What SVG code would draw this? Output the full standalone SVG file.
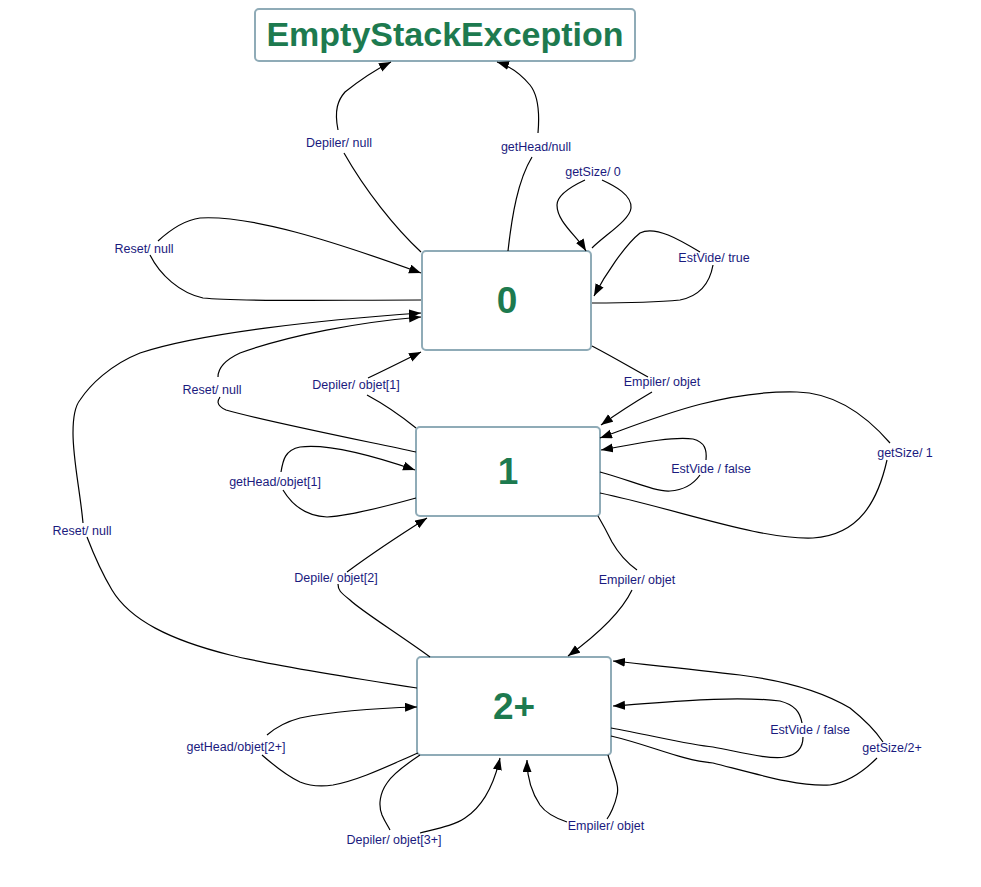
<svg xmlns="http://www.w3.org/2000/svg" width="981" height="887" viewBox="0 0 981 887">
<defs>
<marker id="ah" markerUnits="userSpaceOnUse" markerWidth="13" markerHeight="10" refX="12" refY="4.5" orient="auto">
<path d="M0,0 L12,4.5 L0,9 z" fill="#000"/>
</marker>
<style>
.node{fill:#fff;stroke:#8fabb7;stroke-width:2}
.nt{font-family:"Liberation Sans",Arial,sans-serif;font-weight:bold;fill:#1d7a4f;text-anchor:middle}
.e{fill:none;stroke:#000;stroke-width:1.2;marker-end:url(#ah)}
.lb{font-family:"Liberation Sans",Arial,sans-serif;font-size:12.5px;fill:#1a1a7e;text-anchor:middle}
</style>
</defs>
<rect width="981" height="887" fill="#fff"/>
<g id="ese">
<rect class="node" x="255" y="9" width="380" height="52" rx="4"/>
<text class="nt" x="445" y="46" font-size="34">EmptyStackException</text>
</g>
<g id="s0">
<rect class="node" x="422" y="251" width="169" height="99" rx="4"/>
<text class="nt" x="507" y="313" font-size="37">0</text>
</g>
<g id="s1">
<rect class="node" x="416" y="427" width="184" height="89" rx="4"/>
<text class="nt" x="508" y="484" font-size="37">1</text>
</g>
<g id="s2">
<rect class="node" x="417" y="657" width="194" height="98" rx="4"/>
<text class="nt" x="514" y="719" font-size="37">2+</text>
</g>
<g id="connectors">
<path class="e" d="M421,252 C395,228 365,190 344,153 M338,130 C334,110 338,100 345,92 C360,80 375,70 391,62"/>
<path class="e" d="M508,251 C512,215 518,180 532,157 M538,133 C540,110 538,95 530,85 C520,73 510,66 497,62"/>
<path class="e" d="M592,248 C605,235 630,220 631,208 C632,195 615,186 602,180 M585,180 C570,187 557,195 557,205 C557,222 577,236 586,251"/>
<path class="e" d="M592,303 C630,303 660,302 680,300 C700,296 710,282 713,265 M700,252 C680,240 655,225 640,233 C625,245 605,275 594,296"/>
<path class="e" d="M421,300 C330,300 240,302 203,298 C180,293 160,275 150,255 M158,241 C170,230 185,220 200,218 C250,215 330,240 421,273"/>
<path class="e" d="M592,346 C615,358 635,370 648,377 M652,392 C635,402 615,415 601,425"/>
<path class="e" d="M600,493 C680,510 760,540 813,538 C860,535 878,500 887,460 M890,443 C870,420 840,393 797,392 C720,390 650,420 600,438"/>
<path class="e" d="M600,472 C630,480 655,492 670,491 C685,490 695,482 700,475 M706,460 C707,450 705,442 693,439 C670,436 630,445 601,450"/>
<path class="e" d="M416,452 C350,438 260,420 226,410 C215,405 218,400 220,397 M218,377 C218,368 225,360 240,353 C290,335 360,322 421,317"/>
<path class="e" d="M416,428 C400,415 380,402 367,395 M368,378 C385,370 405,360 421,352"/>
<path class="e" d="M416,498 C380,508 345,516 327,517 C305,516 292,505 283,490 M281,472 C283,460 285,450 300,447 C330,443 380,458 415,470"/>
<path class="e" d="M417,688 C340,676 270,665 230,655 C170,640 130,620 112,590 C100,570 92,550 87,537 M83,523 C80,490 73,460 73,433 C73,415 76,405 80,400 C90,385 110,365 140,353 C200,333 320,320 421,313"/>
<path class="e" d="M430,657 C400,635 360,610 350,600 C340,592 338,590 338,584 M347,572 C370,555 400,535 427,518"/>
<path class="e" d="M598,516 C605,528 608,534 612,542 C620,556 630,565 637,570 M632,590 C620,615 590,640 568,656"/>
<path class="e" d="M611,736 C650,745 680,760 713,763 C760,775 800,787 830,785 C850,782 865,770 877,758 M883,742 C875,730 865,720 850,708 C820,690 780,680 740,675 C700,670 650,665 613,661"/>
<path class="e" d="M611,728 C650,735 690,745 713,747 C740,752 770,760 785,757 C800,754 803,745 803,737 M802,723 C800,712 795,705 780,701 C730,695 660,703 613,706"/>
<path class="e" d="M418,753 C390,765 360,780 333,785 C320,787 310,786 300,782 C285,775 270,762 262,755 M267,735 C275,728 285,722 300,718 C340,710 380,708 417,707"/>
<path class="e" d="M420,755 C405,765 392,775 387,783 C380,793 378,805 382,815 C385,822 388,826 390,830 M420,833 C440,828 455,825 465,818 C485,805 495,780 500,758"/>
<path class="e" d="M608,755 C612,770 620,785 617,795 C615,805 610,815 607,819 M567,822 C555,818 545,812 540,805 C530,790 527,775 527,760"/>
</g>
<g id="labels">
<text class="lb" x="339" y="147">Depiler/ null</text>
<text class="lb" x="536" y="151">getHead/null</text>
<text class="lb" x="593" y="176">getSize/ 0</text>
<text class="lb" x="714" y="262">EstVide/ true</text>
<text class="lb" x="144" y="253">Reset/ null</text>
<text class="lb" x="662" y="386">Empiler/ objet</text>
<text class="lb" x="905" y="457">getSize/ 1</text>
<text class="lb" x="711" y="473">EstVide / false</text>
<text class="lb" x="212" y="394">Reset/ null</text>
<text class="lb" x="356" y="389">Depiler/ objet[1]</text>
<text class="lb" x="275" y="486">getHead/objet[1]</text>
<text class="lb" x="82" y="535">Reset/ null</text>
<text class="lb" x="336" y="582">Depile/ objet[2]</text>
<text class="lb" x="637" y="584">Empiler/ objet</text>
<text class="lb" x="892" y="752">getSize/2+</text>
<text class="lb" x="810" y="734">EstVide / false</text>
<text class="lb" x="236" y="751">getHead/objet[2+]</text>
<text class="lb" x="394" y="844">Depiler/ objet[3+]</text>
<text class="lb" x="606" y="830">Empiler/ objet</text>
</g>
</svg>
